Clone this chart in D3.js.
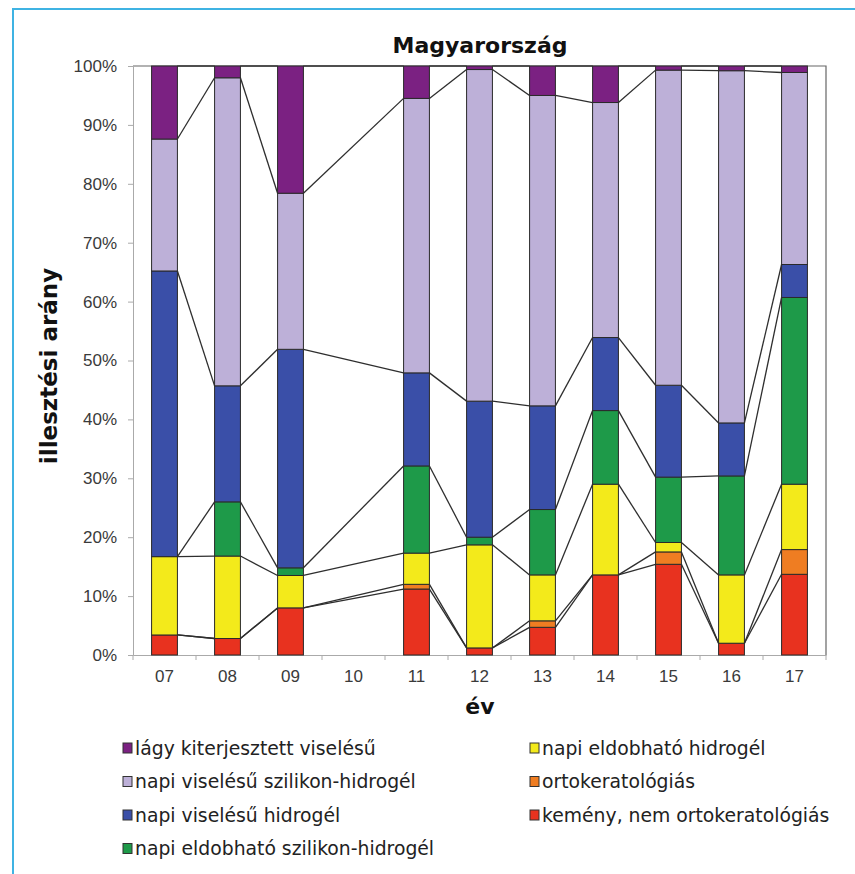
<!DOCTYPE html>
<html><head><meta charset="utf-8">
<script src="https://cdn.jsdelivr.net/npm/d3@7"></script>
<style>body{margin:0;background:#fff}svg{display:block}</style>
</head><body>
<script>
const years = ["07","08","09","10","11","12","13","14","15","16","17"];
const seriesNames = [
  "kemény, nem ortokeratológiás",
  "ortokeratológiás",
  "napi eldobható  hidrogél",
  "napi eldobható szilikon-hidrogél",
  "napi viselésű hidrogél",
  "napi viselésű szilikon-hidrogél",
  "lágy kiterjesztett viselésű"
];
const kemeny   = [3.4, 2.8, 8.0, null, 11.2, 1.2, 4.7, 13.6, 15.4, 2.0, 13.7];
const orto     = [0, 0, 0, null, 0.8, 0, 1.1, 0, 2.1, 0, 4.2];
const eldHidro = [13.3, 14.0, 5.5, null, 5.3, 17.5, 7.8, 15.4, 1.6, 11.6, 11.1];
const eldSzil  = [0, 9.2, 1.3, null, 14.8, 1.3, 11.1, 12.5, 11.1, 16.8, 31.7];
const napiHidro= [48.5, 19.7, 37.1, null, 15.8, 23.1, 17.6, 12.4, 15.6, 9.0, 5.6];
const napiSzil = [22.4, 52.3, 26.5, null, 46.6, 56.3, 52.7, 39.9, 53.5, 59.8, 32.6];
const lagy     = [12.4, 2.0, 21.6, null, 5.5, 0.6, 5.0, 6.2, 0.7, 0.8, 1.1];
const yTicks = [0,10,20,30,40,50,60,70,80,90,100];
const colors = ["#e8321f","#ef7d22","#f3ea1b","#1e9a49","#3a4fa8","#bdb0d8","#7b2182"];

const seriesValues = [kemeny, orto, eldHidro, eldSzil, napiHidro, napiSzil, lagy];

const W = 855, H = 874;
const svg = d3.select("body").append("svg").attr("width", W).attr("height", H)
  .style("font-family", "'DejaVu Sans', Verdana, sans-serif");

// frame
svg.append("path").attr("d", `M13,874 L13,9 L855,9`).attr("fill","none")
  .attr("stroke","#3fb3e3").attr("stroke-width",2);

const L = 133, R = 826, T = 66, B = 655;
const x = d3.scaleBand().domain(years).range([L, R]).paddingInner(0.59).paddingOuter(0.295);
const y = d3.scaleLinear().domain([0, 100]).range([B, T]);

// stacking
const rows = years.map((yr, i) => {
  const o = { year: yr, missing: kemeny[i] === null };
  seriesNames.forEach((n, s) => o[n] = seriesValues[s][i] || 0);
  return o;
});
const stack = d3.stack().keys(seriesNames)(rows);

// plot border (top/right)
svg.append("path").attr("d", `M${L},${T} L${R},${T} L${R},${B}`).attr("fill","none")
  .attr("stroke","#666").attr("stroke-width",1.2);

// axes
const yAxis = svg.append("g").attr("transform", `translate(${L},0)`)
  .call(d3.axisLeft(y).tickValues(yTicks).tickFormat(d => d + "%").tickSize(5).tickPadding(11));
yAxis.select(".domain").attr("stroke","#aaa");
yAxis.selectAll(".tick line").attr("stroke","#aaa");
yAxis.selectAll("text").style("font-size","17px").attr("fill","#3a3a3a");

const xAxis = svg.append("g").attr("transform", `translate(0,${B})`)
  .call(d3.axisBottom(x).tickSize(0).tickPadding(15));
xAxis.select(".domain").attr("stroke","#aaa");
xAxis.selectAll("text").style("font-size","17px").attr("fill","#3a3a3a");
// category boundary ticks
const step = x.step();
svg.append("g").selectAll("line").data(d3.range(years.length + 1)).join("line")
  .attr("x1", i => L + i * step).attr("x2", i => L + i * step)
  .attr("y1", B).attr("y2", B + 5).attr("stroke","#aaa");

// bars
const bw = x.bandwidth();
stack.forEach((layer, s) => {
  svg.append("g").selectAll("rect").data(layer.filter(d => !d.data.missing && d[1] - d[0] > 0)).join("rect")
    .attr("x", d => x(d.data.year)).attr("width", bw)
    .attr("y", d => y(d[1])).attr("height", d => y(d[0]) - y(d[1]))
    .attr("fill", colors[s]).attr("stroke","#2a2a2a").attr("stroke-width",1);
});

// series lines
stack.forEach((layer, s) => {
  const pts = layer.filter(d => !d.data.missing);
  for (let k = 0; k < pts.length - 1; k++) {
    const a = pts[k], b = pts[k + 1];
    svg.append("line")
      .attr("x1", x(a.data.year) + bw).attr("y1", y(a[1]))
      .attr("x2", x(b.data.year)).attr("y2", y(b[1]))
      .attr("stroke","#2e2e2e").attr("stroke-width",1.3);
  }
});

// titles
svg.append("text").attr("x", 480).attr("y", 53).attr("text-anchor","middle")
  .attr("font-size","22px").attr("font-weight","bold").attr("fill","#111").text("Magyarország");
svg.append("text").attr("transform", `translate(57,366) rotate(-90)`)
  .attr("text-anchor","middle").attr("font-size","23px").attr("font-weight","bold").attr("fill","#111")
  .text("illesztési arány");
svg.append("text").attr("x", 480).attr("y", 714).attr("text-anchor","middle")
  .attr("font-size","22px").attr("font-weight","bold").attr("fill","#111").text("év");

// legend
const legendItems = [
  { s: 6, col: 0, row: 0 }, { s: 5, col: 0, row: 1 }, { s: 4, col: 0, row: 2 }, { s: 3, col: 0, row: 3 },
  { s: 2, col: 1, row: 0 }, { s: 1, col: 1, row: 1 }, { s: 0, col: 1, row: 2 }
];
const lg = svg.append("g");
legendItems.forEach(it => {
  const lx = it.col === 0 ? 123 : 530;
  const ly = 748 + it.row * 33.5;
  lg.append("rect").attr("x", lx).attr("y", ly - 5).attr("width", 9).attr("height", 10)
    .attr("fill", colors[it.s]).attr("stroke","#333").attr("stroke-width",1);
  lg.append("text").attr("x", lx + 12).attr("y", ly).attr("dy","0.35em")
    .attr("font-size","18.8px").attr("fill","#222").text(seriesNames[it.s]);
});
</script>
</body></html>
